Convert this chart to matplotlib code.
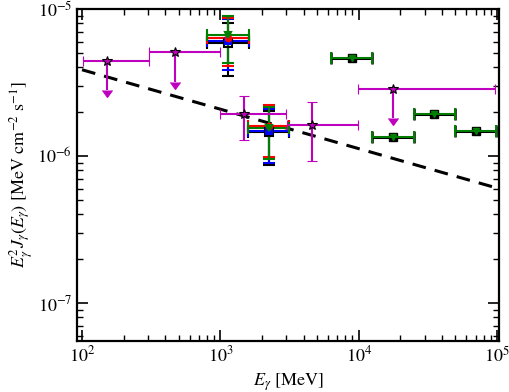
import matplotlib
matplotlib.use("Agg")
import matplotlib.pyplot as plt
import numpy as np

plt.rcParams['font.family'] = ['STIXGeneral', 'DejaVu Serif']
plt.rcParams['mathtext.fontset'] = 'stix'

# magenta points (stars), some are upper limits
mag_E = [152, 468, 1493, 4580, 17660]
mag_Elo = [102, 303, 1000, 3050, 9840]
mag_Ehi = [303, 1000, 2985, 9840, 96400]
mag_F = [4.43e-6, 5.07e-6, 1.93e-6, 1.63e-6, 2.85e-6]
mag_Flo = [2.81e-6, 3.2e-6, 1.285e-6, 9.25e-7, 1.82e-6]
mag_Fhi = [4.43e-6, 5.07e-6, 2.57e-6, 2.34e-6, 2.85e-6]
mag_ul = [True, True, False, False, True]

# two bins with four overlapping analyses
multi_E = [1130, 2260]
multi_Elo = [797, 1592]
multi_Ehi = [1615, 3155]
black_F = [5.84e-6, 1.45e-6]
black_Fhi = [8.07e-6, 2.02e-6]
black_Flo = [3.5e-6, 8.7e-7]
blue_F = [6.1e-6, 1.49e-6]
blue_Fhi = [8.55e-6, 2.09e-6]
blue_Flo = [3.86e-6, 9.0e-7]
red_F = [6.3e-6, 1.6e-6]
red_Fhi = [8.65e-6, 2.22e-6]
red_Flo = [4.11e-6, 9.9e-7]
green_F = [6.65e-6, 1.56e-6]
green_Fhi = [9.0e-6, 2.16e-6]
green_Flo = [4.31e-6, 9.6e-7]

# high-energy bins (black + green)
hi_E = [8910, 17660, 35080, 70300]
hi_Elo = [6310, 12500, 25000, 49800]
hi_Ehi = [12450, 25000, 49800, 98400]
hi_F = [4.62e-6, 1.35e-6, 1.93e-6, 1.48e-6]

# dashed power law
line_E = [100, 1e5]
line_F = [3.86e-6, 6.05e-7]

fig = plt.figure(figsize=(5.1, 3.92), dpi=100)
ax = fig.add_axes([77/510, 51/392, 422/510, 332/392])
ax.set_xscale('log')
ax.set_yscale('log')

ax.plot(line_E, line_F, 'k--', lw=2.2, dashes=(4.5, 3), zorder=1)

def xerr_of(E, lo, hi):
    E = np.array(E); return [E - np.array(lo), np.array(hi) - E]

def yerr_of(F, lo, hi):
    F = np.array(F); return [F - np.array(lo), np.array(hi) - F]

series = [('k', 's', black_F, black_Flo, black_Fhi, 6),
          ('b', 's', blue_F, blue_Flo, blue_Fhi, 4),
          ('r', 'o', red_F, red_Flo, red_Fhi, 4),
          ('g', 'v', green_F, green_Flo, green_Fhi, 4)]
for c, m, F, lo, hi, ms in series:
    ax.errorbar(multi_E, F, xerr=xerr_of(multi_E, multi_Elo, multi_Ehi),
                yerr=yerr_of(F, lo, hi), fmt=m, color=c, mfc=c if c != 'k' else 'none',
                mec=c, mew=1.5, ms=ms, elinewidth=1.5, capsize=4, capthick=1.5, zorder=3)

ax.errorbar(hi_E, hi_F, xerr=xerr_of(hi_E, hi_Elo, hi_Ehi), fmt='s', color='k',
            mfc='k', mec='k', ms=6, elinewidth=2.2, capsize=4, capthick=1.8, zorder=3)
ax.errorbar(hi_E, hi_F, xerr=xerr_of(hi_E, hi_Elo, hi_Ehi), fmt='v', color='g',
            mfc='g', mec='g', ms=4, elinewidth=1.4, capsize=4, capthick=1.4, zorder=4)

mag_yerr = yerr_of(mag_F, mag_Flo, mag_Fhi)
ax.errorbar(mag_E, mag_F, xerr=xerr_of(mag_E, mag_Elo, mag_Ehi), yerr=mag_yerr,
            uplims=mag_ul, fmt='*', color='m', mfc='m', mec='k', mew=0.8, ms=7,
            elinewidth=1.5, capsize=3.5, capthick=1.5, zorder=5)

ax.set_xlim(92, 1.034e5)
ax.set_ylim(5.51e-8, 1e-5)

ax.tick_params(which='both', direction='in', top=True, right=True, labelsize=13)
ax.tick_params(which='major', length=8, width=1.2)
ax.tick_params(which='minor', length=4, width=1.0)
for s in ax.spines.values():
    s.set_linewidth(1.6)

ax.set_xlabel(r'$E_\gamma$ [MeV]', fontsize=13, labelpad=4)
ax.set_ylabel(r'$E_\gamma^2 J_\gamma(E_\gamma)$ [MeV cm$^{-2}$ s$^{-1}$]', fontsize=13, labelpad=2)

fig.savefig('out.png', dpi=100)
